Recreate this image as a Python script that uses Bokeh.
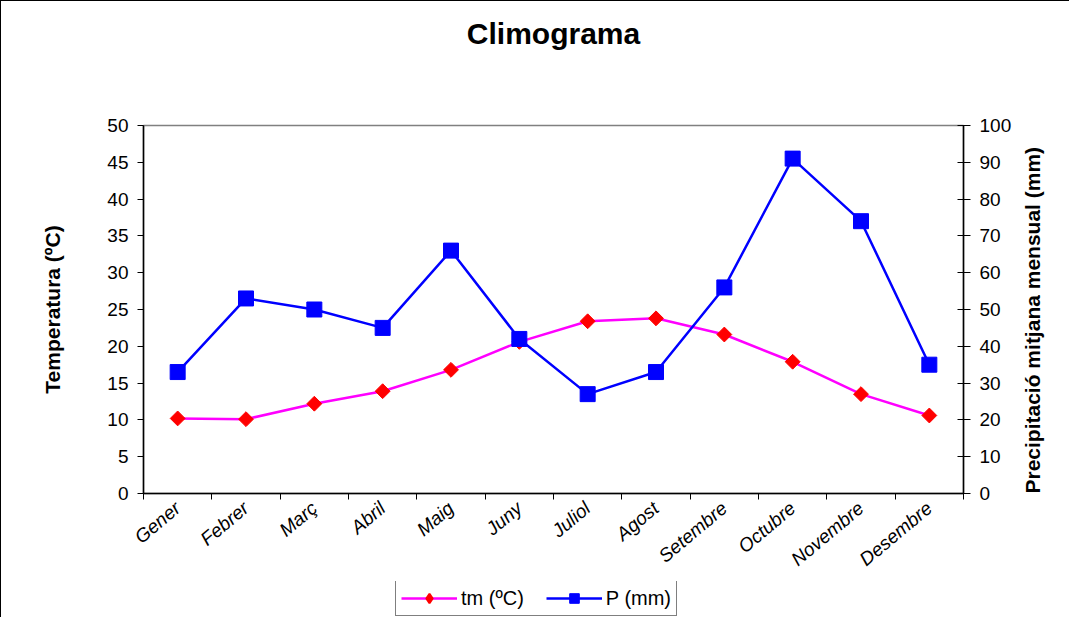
import math
from bokeh.plotting import figure
from bokeh.layouts import column
from bokeh.models import (Range1d, LinearAxis, FixedTicker, Legend, LegendItem,
                          ColumnDataSource, Label)
from bokeh.embed import file_html
from bokeh.resources import INLINE

months = ["Gener", "Febrer", "Març", "Abril", "Maig", "Juny", "Juliol",
          "Agost", "Setembre", "Octubre", "Novembre", "Desembre"]
tm = [10.2, 10.1, 12.2, 13.9, 16.8, 20.6, 23.4, 23.8, 21.6, 17.9, 13.5, 10.6]
p_mm = [33, 53, 50, 45, 66, 42, 27, 33, 56, 91, 74, 35]
temp_ticks = [0, 5, 10, 15, 20, 25, 30, 35, 40, 45, 50]
prec_ticks = [0, 10, 20, 30, 40, 50, 60, 70, 80, 90, 100]

FONT = "Liberation Sans"
W = 1068

xc = [i + 0.5 for i in range(len(months))]
src = ColumnDataSource(dict(x=xc, tm=tm, p=p_mm))


def bare(height):
    f = figure(width=W, height=height, x_range=Range1d(0, 1),
               y_range=Range1d(-2, -1), x_axis_type=None, y_axis_type=None,
               output_backend="svg", toolbar_location=None, min_border=0)
    f.outline_line_color = None
    f.background_fill_color = "white"
    f.border_fill_color = "white"
    f.grid.visible = False
    return f


# ---- title strip
tf = bare(60)
tf.add_layout(Label(x=410, y=28, x_units="screen", y_units="screen",
                    text="Climograma", text_align="center",
                    text_baseline="middle", text_font=FONT,
                    text_font_size="30px", text_font_style="bold",
                    text_color="black"))

# ---- main chart
p = figure(width=W, height=520, x_range=Range1d(0, len(months)),
           y_range=Range1d(temp_ticks[0], temp_ticks[-1]),
           output_backend="svg", toolbar_location=None,
           min_border_left=142, min_border_right=106,
           min_border_top=64, min_border_bottom=88)
p.extra_y_ranges = {"p": Range1d(prec_ticks[0], prec_ticks[-1])}

p.xgrid.visible = False
p.ygrid.visible = False
p.outline_line_color = "#808080"
p.outline_line_width = 1.5
p.background_fill_color = "white"
p.border_fill_color = "white"

# x axis
xa = p.xaxis[0]
xa.ticker = FixedTicker(ticks=xc, minor_ticks=list(range(len(months) + 1)))
xa.major_label_overrides = {x: m for x, m in zip(xc, months)}
xa.major_tick_line_color = None
xa.minor_tick_in = 0
xa.minor_tick_out = 6
xa.minor_tick_line_color = "black"
xa.minor_tick_line_width = 1
xa.axis_line_color = "black"
xa.axis_line_width = 1.5
xa.major_label_orientation = math.radians(40)
xa.major_label_text_font = FONT
xa.major_label_text_font_style = "italic"
xa.major_label_text_font_size = "19px"
xa.major_label_text_color = "black"
xa.major_label_standoff = 6

# left axis
ya = p.yaxis[0]
ya.ticker = FixedTicker(ticks=temp_ticks)
ya.minor_tick_line_color = None
ya.major_tick_in = 0
ya.major_tick_out = 6
ya.major_tick_line_color = "black"
ya.axis_line_color = "black"
ya.axis_line_width = 1.5
ya.major_label_text_font = FONT
ya.major_label_text_font_size = "19px"
ya.major_label_text_color = "black"
ya.major_label_standoff = 9
ya.axis_label = "Temperatura (ºC)"
ya.axis_label_text_font = FONT
ya.axis_label_text_font_size = "21px"
ya.axis_label_text_font_style = "bold"
ya.axis_label_text_color = "black"
ya.axis_label_standoff = 40

# right axis
ra = LinearAxis(y_range_name="p", ticker=FixedTicker(ticks=prec_ticks))
ra.minor_tick_line_color = None
ra.major_tick_in = 6
ra.major_tick_out = 7
ra.major_tick_line_color = "black"
ra.axis_line_color = "black"
ra.axis_line_width = 1.5
ra.major_label_text_font = FONT
ra.major_label_text_font_size = "19px"
ra.major_label_text_color = "black"
ra.major_label_standoff = 9
ra.axis_label = "Precipitació mitjana mensual (mm)"
ra.axis_label_text_font = FONT
ra.axis_label_text_font_size = "21px"
ra.axis_label_text_font_style = "bold"
ra.axis_label_text_color = "black"
ra.axis_label_standoff = 18
ra.axis_label_orientation = math.pi / 2
ra.axis_label_align = "start"
p.add_layout(ra, "right")

T_STYLE = dict(line_color="#FF00FF", line_width=2.5)
TM_STYLE = dict(marker="square", angle=math.pi / 4, size=10.5,
                fill_color="#FF0000", line_color="#FF0000")
P_STYLE = dict(line_color="#0000FF", line_width=2.5)
PM_STYLE = dict(marker="square", size=15, fill_color="#0000FF",
                line_color="#0000FF")

p.line("x", "tm", source=src, **T_STYLE)
p.scatter("x", "tm", source=src, **TM_STYLE)
p.line("x", "p", source=src, y_range_name="p", **P_STYLE)
p.scatter("x", "p", source=src, y_range_name="p", **PM_STYLE)

# ---- legend strip (same series, drawn out of its view; only the legend shows)
lf = bare(36)
r1 = lf.line("x", "tm", source=src, **T_STYLE)
r2 = lf.scatter("x", "tm", source=src, marker="diamond",
                fill_color="#FF0000", line_color="#FF0000", line_width=2)
r3 = lf.line("x", "p", source=src, **P_STYLE)
r4 = lf.scatter("x", "p", source=src, **PM_STYLE)
legend = Legend(items=[LegendItem(label="tm (ºC)", renderers=[r1, r2]),
                       LegendItem(label="P (mm)", renderers=[r3, r4])],
                orientation="horizontal", location=(252, 1),
                border_line_color="black", border_line_width=1,
                background_fill_color="white", background_fill_alpha=1,
                label_text_font=FONT, label_text_font_size="20px",
                label_text_color="black",
                glyph_width=56, glyph_height=24, padding=5, spacing=22,
                margin=0, label_standoff=4)
lf.add_layout(legend)

layout = column(tf, p, lf, spacing=0,
                styles={"border-left": "1px solid black",
                        "border-top": "1px solid black"})

open("out.html", "w").write(file_html(layout, INLINE))
